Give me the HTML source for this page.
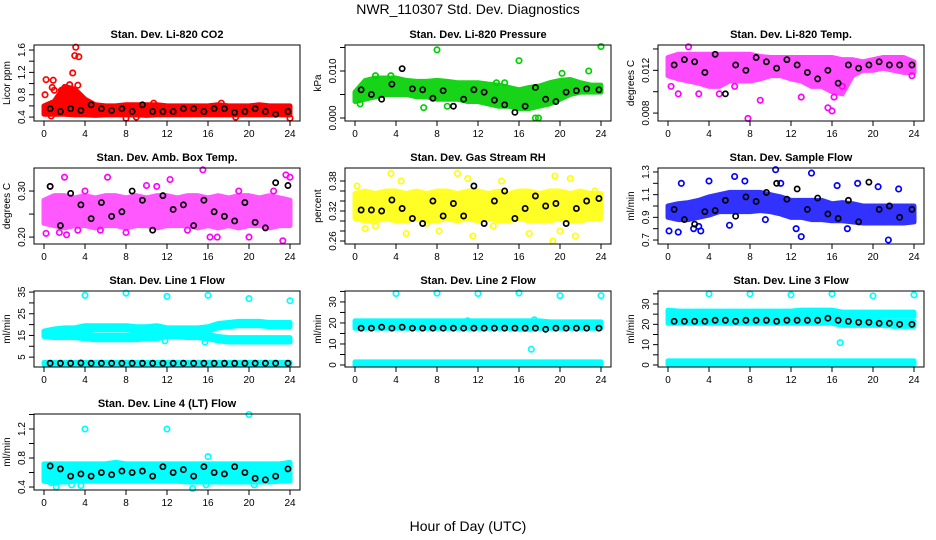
<!DOCTYPE html>
<html><head><meta charset="utf-8"><style>
html,body{margin:0;padding:0;background:#fff;}
svg{display:block;font-family:"Liberation Sans",sans-serif;}
</style></head><body>
<svg id="chart" width="936" height="540" viewBox="0 0 936 540">
<text x="468" y="14" text-anchor="middle" font-size="14">NWR_110307  Std. Dev. Diagnostics</text>
<text x="468" y="531" text-anchor="middle" font-size="14">Hour of Day (UTC)</text>
</svg>
<script>
// ---- data (hourly band lows/highs 0..24, outlier points, black hourly points) ----
const hours = [0,1,2,3,4,5,6,7,8,9,10,11,12,13,14,15,16,17,18,19,20,21,22,23,24];
const xTicks = [0,4,8,12,16,20,24];

const co2Lo = [0.45,0.45,0.45,0.44,0.44,0.43,0.44,0.44,0.44,0.44,0.43,0.44,0.44,0.44,0.44,0.44,0.44,0.44,0.44,0.44,0.44,0.44,0.44,0.44,0.44];
const co2Hi = [0.6,0.68,0.95,0.9,0.72,0.62,0.6,0.6,0.62,0.62,0.62,0.62,0.6,0.6,0.6,0.6,0.6,0.62,0.6,0.6,0.6,0.62,0.6,0.6,0.6];
const co2Pts = [[0.2,1.07],[0.1,0.8],[0.9,1.06],[0.8,0.93],[1.0,0.88],[2.8,1.19],[3.0,1.5],[3.1,1.65],[3.4,1.48],[3.3,0.97],[3.5,0.72],[1.7,0.88],[2.0,0.92],[2.5,0.98],[8.0,0.38],[24.0,0.38],[0.7,0.42],[9.0,0.4],[18.7,0.4],[17.3,0.65],[10.7,0.65]];
const co2Blk = [0.55,0.5,0.55,0.52,0.62,0.55,0.52,0.55,0.5,0.62,0.5,0.5,0.5,0.55,0.55,0.5,0.55,0.55,0.48,0.5,0.55,0.5,0.45,0.5];

const presLo = [0.0035,0.004,0.0045,0.005,0.005,0.005,0.0045,0.0045,0.004,0.004,0.004,0.0035,0.0035,0.003,0.0025,0.0025,0.002,0.002,0.0025,0.003,0.004,0.005,0.0055,0.0055,0.0055];
const presHi = [0.0055,0.008,0.0085,0.0085,0.0085,0.008,0.0078,0.0078,0.008,0.0078,0.0075,0.0075,0.0075,0.0072,0.007,0.0065,0.006,0.0065,0.0068,0.0075,0.008,0.0082,0.0075,0.007,0.007];
const presPts = [[8.0,0.0145],[16.0,0.0122],[24.0,0.0152],[0.5,0.003],[2.0,0.009],[6.7,0.0022],[9.0,0.0025],[17.6,0.0],[17.9,0.0],[13.8,0.0075],[14.6,0.0075],[20.2,0.0095],[22.8,0.01],[3.5,0.009]];
const presBlk = [0.006,0.005,0.004,0.0072,0.0105,0.0062,0.006,0.0042,0.0058,0.0025,0.004,0.006,0.0055,0.0038,0.0028,0.0012,0.0025,0.0065,0.004,0.0035,0.0055,0.0058,0.0062,0.006];

const tempLo = [0.0115,0.0112,0.011,0.0108,0.0105,0.0105,0.011,0.011,0.011,0.0112,0.0115,0.0115,0.0112,0.011,0.0105,0.0105,0.01,0.0098,0.0115,0.012,0.012,0.0122,0.012,0.0118,0.0118];
const tempHi = [0.0132,0.0135,0.0135,0.0135,0.0135,0.0135,0.0135,0.0135,0.0135,0.0133,0.0132,0.0132,0.0132,0.0132,0.0132,0.0132,0.0132,0.013,0.013,0.0128,0.013,0.0132,0.0132,0.0132,0.0128];
const tempPts = [[0.3,0.0105],[1.0,0.0098],[3.0,0.0098],[5.0,0.0098],[7.8,0.0075],[9.0,0.0092],[13.0,0.0095],[15.6,0.0085],[16.0,0.0082],[16.2,0.0095],[17.0,0.0105],[23.8,0.0115],[6.5,0.0105],[2.0,0.0142]];
const tempBlk = [0.0125,0.013,0.0128,0.0118,0.0135,0.0098,0.0125,0.012,0.0132,0.0128,0.0122,0.013,0.0125,0.0118,0.0112,0.012,0.0108,0.0125,0.0122,0.0125,0.0128,0.0125,0.0125,0.0125];

const ambLo = [0.23,0.225,0.22,0.225,0.225,0.22,0.225,0.225,0.22,0.225,0.225,0.22,0.225,0.225,0.225,0.22,0.225,0.22,0.225,0.22,0.225,0.225,0.22,0.225,0.225];
const ambHi = [0.28,0.29,0.29,0.285,0.29,0.285,0.29,0.29,0.285,0.29,0.285,0.29,0.29,0.285,0.29,0.29,0.285,0.29,0.285,0.29,0.29,0.285,0.29,0.285,0.28];
const ambPts = [[0.2,0.208],[0.6,0.31],[1.5,0.21],[2.0,0.33],[2.2,0.205],[3.3,0.215],[5.5,0.215],[6.2,0.33],[8.0,0.21],[10.0,0.312],[12.3,0.325],[14.0,0.215],[15.5,0.346],[16.2,0.2],[16.9,0.2],[19.0,0.3],[20.0,0.2],[22.4,0.3],[23.3,0.192],[23.6,0.335],[24.0,0.33],[4.0,0.3],[11.0,0.31]];
const ambBlk = [0.31,0.225,0.295,0.27,0.24,0.275,0.245,0.255,0.3,0.28,0.215,0.29,0.26,0.27,0.225,0.28,0.255,0.245,0.235,0.275,0.232,0.22,0.318,0.312];

const rhLo = [0.305,0.3,0.3,0.305,0.3,0.3,0.305,0.3,0.3,0.305,0.3,0.305,0.3,0.305,0.3,0.3,0.305,0.3,0.3,0.3,0.305,0.3,0.3,0.305,0.305];
const rhHi = [0.355,0.36,0.355,0.36,0.36,0.355,0.36,0.355,0.36,0.36,0.355,0.36,0.36,0.355,0.36,0.355,0.36,0.36,0.355,0.36,0.36,0.355,0.36,0.355,0.355];
const rhPts = [[0.2,0.37],[1.0,0.285],[3.5,0.395],[4.5,0.38],[5.0,0.275],[8.2,0.28],[10.0,0.395],[11.0,0.385],[11.5,0.27],[14.3,0.38],[17.0,0.275],[19.3,0.26],[19.5,0.39],[20.0,0.28],[21.0,0.385],[21.5,0.27],[23.4,0.36],[13.5,0.29],[7.0,0.295],[2.0,0.29]];
const rhBlk = [0.322,0.322,0.32,0.342,0.325,0.305,0.295,0.34,0.31,0.335,0.31,0.37,0.295,0.34,0.36,0.305,0.325,0.35,0.33,0.335,0.295,0.325,0.34,0.345];

const sfLo = [0.9,0.88,0.88,0.9,0.92,0.95,0.95,0.95,0.95,0.96,0.95,0.93,0.9,0.9,0.88,0.88,0.87,0.87,0.86,0.85,0.85,0.85,0.85,0.85,0.86];
const sfHi = [1.0,1.02,1.03,1.05,1.08,1.1,1.12,1.12,1.12,1.12,1.1,1.08,1.05,1.05,1.05,1.05,1.02,1.03,1.02,1.0,1.0,1.0,1.0,1.0,1.0];
const sfPts = [[0.1,0.78],[1.0,0.77],[1.3,1.2],[2.5,0.8],[3.2,0.78],[4.0,1.22],[6.5,1.26],[7.5,1.22],[9.5,0.88],[10.5,1.32],[11.0,1.2],[12.5,0.8],[13.0,0.73],[14.0,1.29],[17.5,0.8],[18.5,1.2],[20.5,1.17],[21.5,0.7],[22.5,1.15],[3.0,0.82],[6.0,0.83],[16.5,1.18]];
const sfBlk = [0.97,0.88,0.84,0.95,0.96,1.05,0.91,1.08,1.04,1.12,1.2,1.06,1.15,0.97,1.07,0.93,0.89,1.05,0.86,1.21,0.97,1.0,0.9,0.97];

const l1UpLo = [15,16,16.5,16.5,17.5,17.5,17.5,17.5,17.5,17,17,17.5,16.5,16.5,16.5,16.5,17,18.5,19,19.5,19.5,19.5,19,19,19];
const l1UpHi = [17,18,18.5,18.5,19.5,19.5,19.5,19.5,19.5,19,19,19.5,18.5,18.5,18.5,18.5,19,20.5,21,21.5,21.5,21.5,21,21,21];
const l1LoLo = [14.5,14,14,14,13.5,13,13,13,13,13,13.5,13.5,14.5,14.5,14,14,13.5,12.5,12,12,12,12,12,12,12];
const l1LoHi = [16.5,16,16,16,15.5,15,15,15,15,15,15.5,15.5,16.5,16.5,16,16,15.5,14.5,14,14,14,14,14,14,14];
const l1BtLo = [1.6,1.6,1.6,1.6,1.6,1.6,1.6,1.6,1.6,1.6,1.6,1.6,1.6,1.6,1.6,1.6,1.6,1.6,1.6,1.6,1.6,1.6,1.6,1.6,1.6];
const l1BtHi = [2.6,2.6,2.6,2.6,2.6,2.6,2.6,2.6,2.6,2.6,2.6,2.6,2.6,2.6,2.6,2.6,2.6,2.6,2.6,2.6,2.6,2.6,2.6,2.6,2.6];
const l1Pts = [[4,33.5],[8,34.5],[12,33],[16,33.5],[20,32],[24,31],[15.7,12],[11.8,12.5]];
const l1Blk = [2.2,2.2,2.2,2.3,2.2,2.2,2.2,2.2,2.2,2.2,2.2,2.2,2.2,2.2,2.2,2.2,2.2,2.2,2.2,2.2,2.2,2.2,2.2,2.2];

const l2Lo = [17.5,17.5,17.5,17.5,17.5,17.5,17.5,17.5,17.5,17.5,17.5,17.5,17.5,17.5,17.5,17.5,17,17,17.5,17.5,17.5,17.5,17.5,17.5,17.5];
const l2Hi = [21,21,21,21,21,21,21,21,21,21,21,21,21,21,21,21,21,21,21,20.5,20.5,20.5,20.5,20.5,20.5];
const l2BtLo = [0,0,0,0,0,0,0,0,0,0,0,0,0,0,0,0,0,0,0,0,0,0,0,0,0];
const l2BtHi = [1.5,1.5,1.5,1.5,1.5,1.5,1.5,1.5,1.5,1.5,1.5,1.5,1.5,1.5,1.5,1.5,1.5,1.5,1.5,1.5,1.5,1.5,1.5,1.5,1.5];
const l2Pts = [[4,34],[8,34.2],[12,34],[16,34.3],[20,33],[24,33],[17.2,7.5],[17.5,21.5],[11,21]];
const l2Blk = [17.5,17.5,18,17.5,18,17.5,17.5,17.5,17.5,17.5,17.5,17.5,17.5,17.5,17.5,17.5,17.5,17.5,17,17.5,17.5,17.5,17.5,17.5];

const l3UpLo = [24.5,24.5,24.5,24.5,24.5,24.5,24.5,24.5,24.5,24.5,24.5,24.5,24.5,24.5,24.5,24.5,24.5,24,24,24,24,24,24,24,24];
const l3UpHi = [27,26.5,26.5,26.5,26.5,26.5,26.5,26.5,26.5,26.5,26.5,26.5,26.5,27,27,27,27,26,26,26,26,26,26,26,26];
const l3MdLo = [20.5,20.5,20.5,20.5,20.5,20.5,20.5,20.5,20.5,20.5,20.5,20.5,20.5,20.5,20.5,20.5,20.5,19.5,19.5,19.5,19.5,19.5,19,19,19];
const l3MdHi = [23.5,23,23,23,23,23,23,23,23,23,23,23,23,23,23,23.5,23.5,22,22,22,22,21.5,21.5,21.5,21.5];
const l3BtLo = [0.3,0.3,0.3,0.3,0.3,0.3,0.3,0.3,0.3,0.3,0.3,0.3,0.3,0.3,0.3,0.3,0.3,0.3,0.3,0.3,0.3,0.3,0.3,0.3,0.3];
const l3BtHi = [2,2,2,2,2,2,2,2,2,2,2,2,2,2,2,2,2,2,2,2,2,2,2,2,2];
const l3Pts = [[4,35],[8,35],[12,34.5],[16,35],[20,34],[24,34.5],[16.8,11]];
const l3Blk = [21.5,21.5,21.5,21.5,22,22,21.5,22,22,22,21.5,22,22,22,22,23,22,21.5,21,21,20.5,20.5,20,20];

const l4Lo = [0.48,0.47,0.47,0.48,0.48,0.48,0.48,0.48,0.48,0.48,0.48,0.48,0.48,0.48,0.47,0.47,0.47,0.47,0.47,0.47,0.47,0.47,0.47,0.48,0.48];
const l4Hi = [0.72,0.72,0.72,0.72,0.72,0.72,0.72,0.74,0.72,0.72,0.72,0.72,0.72,0.72,0.72,0.72,0.72,0.72,0.72,0.72,0.72,0.72,0.72,0.72,0.74];
const l4Pts = [[4,1.2],[12,1.2],[20,1.4],[16,0.82],[1.2,0.4],[14.5,0.38],[15.8,0.43],[0.7,0.46],[2.7,0.43],[3.6,0.42],[20.5,0.43]];
const l4Blk = [0.69,0.65,0.55,0.58,0.55,0.6,0.57,0.62,0.6,0.62,0.55,0.68,0.6,0.64,0.55,0.68,0.6,0.58,0.68,0.6,0.52,0.5,0.55,0.65];

const yTicksCo2 = [0.4,0.6,0.8,1.0,1.2,1.4,1.6], yLabCo2 = ["0.4","0.8","1.2","1.6"];
const yTicksPres = [0,0.005,0.01,0.015], yLabPres = ["0.000","0.010"];
const yTicksTemp = [0.008,0.01,0.012,0.014], yLabTemp = ["0.008","0.012"];
const yTicksAmb = [0.2,0.25,0.3], yLabAmb = ["0.20","0.30"];
const yTicksRh = [0.26,0.28,0.3,0.32,0.34,0.36,0.38], yLabRh = ["0.26","0.32","0.38"];
const yTicksSf = [0.7,0.8,0.9,1.0,1.1,1.2,1.3], yLabSf = ["0.7","0.9","1.1","1.3"];
const yTicksL1 = [5,10,15,20,25,30,35], yLabL1 = ["5","15","25","35"];
const yTicksL2 = [0,5,10,15,20,25,30,35], yLabL2 = ["0","10","20","30"];
const yTicksL4 = [0.4,0.6,0.8,1.0,1.2,1.4], yLabL4 = ["0.4","0.8","1.2"];

const NS = "http://www.w3.org/2000/svg";
const svg = document.getElementById("chart");
function mk(tag, attrs, parent){ const e=document.createElementNS(NS,tag); for(const k in attrs) e.setAttribute(k,attrs[k]); (parent||svg).appendChild(e); return e; }

const panels = [
 {slug:"co2",title:"Stan. Dev. Li-820 CO2",ylab:"Licor ppm",col:0,row:0,ymin:0.33,ymax:1.69,color:"#ff0000",op:1,bands:[[co2Lo,co2Hi]],pts:co2Pts,blk:co2Blk,ticks:yTicksCo2,labs:yLabCo2},
 {slug:"pressure",title:"Stan. Dev. Li-820 Pressure",ylab:"kPa",col:1,row:0,ymin:-0.00064,ymax:0.01553,color:"#00d000",op:0.9,bands:[[presLo,presHi]],pts:presPts,blk:presBlk,ticks:yTicksPres,labs:yLabPres},
 {slug:"temp",title:"Stan. Dev. Li-820 Temp.",ylab:"degrees C",col:2,row:0,ymin:0.00726,ymax:0.01437,color:"#ff00ff",op:0.7,bands:[[tempLo,tempHi]],pts:tempPts,blk:tempBlk,ticks:yTicksTemp,labs:yLabTemp},
 {slug:"amb-box-temp",title:"Stan. Dev. Amb. Box Temp.",ylab:"degrees C",col:0,row:1,ymin:0.185,ymax:0.35,color:"#ff00ff",op:0.65,bands:[[ambLo,ambHi]],pts:ambPts,blk:ambBlk,ticks:yTicksAmb,labs:yLabAmb},
 {slug:"gas-rh",title:"Stan. Dev. Gas Stream RH",ylab:"percent",col:1,row:1,ymin:0.254,ymax:0.406,color:"#ffff00",op:0.85,bands:[[rhLo,rhHi]],pts:rhPts,blk:rhBlk,ticks:yTicksRh,labs:yLabRh},
 {slug:"sample-flow",title:"Stan. Dev. Sample Flow",ylab:"ml/min",col:2,row:1,ymin:0.665,ymax:1.335,color:"#0000ff",op:0.8,bands:[[sfLo,sfHi]],pts:sfPts,blk:sfBlk,ticks:yTicksSf,labs:yLabSf},
 {slug:"line1-flow",title:"Stan. Dev. Line 1 Flow",ylab:"ml/min",col:0,row:2,ymin:0.45,ymax:35.5,color:"#00ffff",op:1,bands:[[l1UpLo,l1UpHi],[l1LoLo,l1LoHi],[l1BtLo,l1BtHi]],pts:l1Pts,blk:l1Blk,ticks:yTicksL1,labs:yLabL1},
 {slug:"line2-flow",title:"Stan. Dev. Line 2 Flow",ylab:"ml/min",col:1,row:2,ymin:-0.95,ymax:35.2,color:"#00ffff",op:1,bands:[[l2Lo,l2Hi],[l2BtLo,l2BtHi]],pts:l2Pts,blk:l2Blk,ticks:yTicksL2,labs:yLabL2},
 {slug:"line3-flow",title:"Stan. Dev. Line 3 Flow",ylab:"ml/min",col:2,row:2,ymin:-1,ymax:36.4,color:"#00ffff",op:1,bands:[[l3UpLo,l3UpHi],[l3MdLo,l3MdHi],[l3BtLo,l3BtHi]],pts:l3Pts,blk:l3Blk,ticks:yTicksL2,labs:yLabL2},
 {slug:"line4-flow",title:"Stan. Dev. Line 4 (LT) Flow",ylab:"ml/min",col:0,row:3,ymin:0.359,ymax:1.407,color:"#00ffff",op:1,bands:[[l4Lo,l4Hi]],pts:l4Pts,blk:l4Blk,ticks:yTicksL4,labs:yLabL4}
];
const lefts=[34,345,658], tops=[45,168,291,414], W=266, H=76;

panels.forEach(p=>{
  const L=lefts[p.col], T=tops[p.row];
  const g=mk("g",{});
  
  
  const xs=t=>L+10+t/24*(W-20);
  const ys=v=>T+H-(v-p.ymin)/(p.ymax-p.ymin)*H;
  const t=mk("text",{x:L+W/2,y:T-7,"text-anchor":"middle","font-size":"11","font-weight":"bold"},g);
  t.textContent=p.title;
  
  
  const clip=mk("g",{},g);
  
  
  p.bands.forEach((b,bi)=>{
    const [lo,hi]=b;
    let d="M"+hours.map((h,i)=>xs(h)+","+ys(hi[i])).join(" L");
    d+=" L"+hours.slice().reverse().map((h,i)=>xs(h)+","+ys(lo[hours.length-1-i])).join(" L")+" Z";
    const e=mk("path",{d:d,fill:p.color,stroke:p.color,"stroke-width":"5","stroke-linejoin":"round",opacity:p.op},clip);
    
    
  });
  p.pts.forEach(pt=>{
    const c=mk("circle",{cx:xs(pt[0]),cy:ys(pt[1]),r:2.7,fill:"none",stroke:p.color,"stroke-width":"1.7"},clip);
    
    
  });
  p.blk.forEach((v,i)=>{
    const tt = i===p.blk.length-1 ? 23.8 : i+0.6;
    const c=mk("circle",{cx:xs(tt),cy:ys(v),r:2.6,fill:"none",stroke:"#000","stroke-width":"1.7"},clip);
    
    
  });
  const box=mk("rect",{x:L,y:T,width:W,height:H,fill:"none",stroke:"#000","stroke-width":"1"},g);
  
  
  const xa=mk("g",{},g);
  
  
  mk("line",{x1:xs(0),x2:xs(24),y1:T+H,y2:T+H,stroke:"#000"},xa);
  xTicks.forEach(v=>{
    mk("line",{x1:xs(v),x2:xs(v),y1:T+H,y2:T+H+5,stroke:"#000"},xa);
    const tl=mk("text",{x:xs(v),y:T+H+16,"text-anchor":"middle","font-size":"10"},xa);
    tl.textContent=v;
    
    
  });
  const ya=mk("g",{},g);
  
  
  const tv=p.ticks.filter(v=>v>=p.ymin-1e-9&&v<=p.ymax+1e-9);
  mk("line",{x1:L,x2:L,y1:ys(tv[0]),y2:ys(tv[tv.length-1]),stroke:"#000"},ya);
  tv.forEach(v=>{ mk("line",{x1:L-5,x2:L,y1:ys(v),y2:ys(v),stroke:"#000"},ya); });
  p.labs.forEach(s=>{
    const v=parseFloat(s), y=ys(v), x=L-9;
    const tl=mk("text",{x:x,y:y,"text-anchor":"middle","font-size":"10",transform:`rotate(-90 ${x} ${y})`},ya);
    tl.textContent=s;
    
    
  });
  const yl=mk("text",{x:L-24,y:T+H/2,"text-anchor":"middle","font-size":"10",transform:`rotate(-90 ${L-24} ${T+H/2})`},g);
  yl.textContent=p.ylab;
  
  
});
</script>
</body></html>
